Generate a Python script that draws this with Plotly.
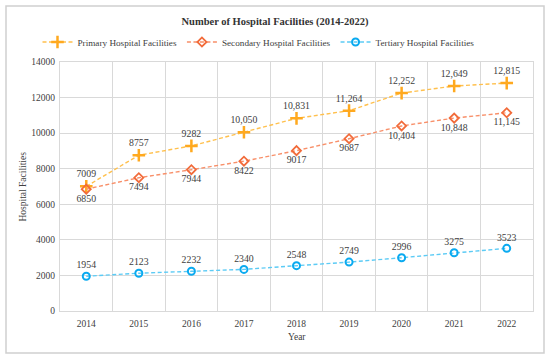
import plotly.graph_objects as go

years = [2014, 2015, 2016, 2017, 2018, 2019, 2020, 2021, 2022]
primary = [7009, 8757, 9282, 10050, 10831, 11264, 12252, 12649, 12815]
secondary = [6850, 7494, 7944, 8422, 9017, 9687, 10404, 10848, 11145]
tertiary = [1954, 2123, 2232, 2340, 2548, 2749, 2996, 3275, 3523]

def fmt(v):
    return f"{v:,}" if v >= 10000 else str(v)

FONT = "Liberation Serif"
TXT = "#404040"
GRID = "#d9d9d9"
DASH = "4px,2.5px"

fig = go.Figure()
fig.add_trace(go.Scatter(
    x=years, y=primary, name="Primary Hospital Facilities",
    mode="lines+markers+text",
    line=dict(color="#FFC04D", width=1.4, dash=DASH),
    marker=dict(symbol="cross-thin-open", size=9, color="#FFA91F",
                line=dict(color="#FFA91F", width=2.5)),
    text=[fmt(v) for v in primary], textposition="top center",
    textfont=dict(family=FONT, size=9.8, color=TXT),
))
fig.add_trace(go.Scatter(
    x=years, y=secondary, name="Secondary Hospital Facilities",
    mode="lines+markers+text",
    line=dict(color="#F8906A", width=1.4, dash=DASH),
    marker=dict(symbol="diamond-open", size=7, color="#F26B3A",
                line=dict(color="#F26B3A", width=1.8)),
    text=[fmt(v) for v in secondary], textposition="bottom center",
    textfont=dict(family=FONT, size=9.8, color=TXT),
))
fig.add_trace(go.Scatter(
    x=years, y=tertiary, name="Tertiary Hospital Facilities",
    mode="lines+markers+text",
    line=dict(color="#5CCBF5", width=1.4, dash=DASH),
    marker=dict(symbol="circle-open", size=7, color="#0AAAF0",
                line=dict(color="#0AAAF0", width=2)),
    text=[fmt(v) for v in tertiary], textposition="top center",
    textfont=dict(family=FONT, size=9.8, color=TXT),
))

bounds = [y + 0.5 for y in [2013] + years]

W, H = 550, 359
L, R, T, B = 60, 17, 62, 48
pw, ph = W - L - R, H - T - B

fig.update_layout(
    width=W, height=H,
    margin=dict(l=L, r=R, t=T, b=B, autoexpand=False),
    paper_bgcolor="white", plot_bgcolor="white",
    font=dict(family=FONT, size=9, color=TXT),
    title=dict(text="<b>Number of Hospital Facilities (2014-2022)</b>",
               x=0.5, xref="container", xanchor="center",
               y=1 - 21 / H, yref="container", yanchor="middle",
               font=dict(family=FONT, size=10.5, color="#333333")),
    legend=dict(orientation="h", x=0.47, xref="container", xanchor="center",
                y=1 - 42 / H, yref="container", yanchor="middle",
                font=dict(family=FONT, size=9.2, color=TXT),
                itemwidth=30, tracegroupgap=0, bgcolor="rgba(0,0,0,0)"),
    showlegend=True,
    xaxis=dict(range=[2013.5, 2022.5], tickvals=years, ticktext=[str(y) for y in years],
               showgrid=False, zeroline=False, ticks="", automargin=False,
               showline=True, linecolor=GRID, mirror=True,
               minor=dict(tickvals=bounds, showgrid=True, gridcolor=GRID, gridwidth=1, ticks=""),
               tickfont=dict(family=FONT, size=9.5, color=TXT), ticklabelstandoff=4),
    yaxis=dict(range=[0, 14000], dtick=2000, tickformat="d", automargin=False,
               showgrid=True, gridcolor=GRID, zeroline=False,
               showline=True, linecolor=GRID, mirror=True, ticks="",
               tickfont=dict(family=FONT, size=9.5, color=TXT), ticklabelstandoff=2),
    annotations=[
        dict(text="Year", xref="paper", yref="paper", x=0.5, y=(311 - 337) / ph,
             showarrow=False, xanchor="center", yanchor="middle",
             font=dict(family=FONT, size=9.5, color=TXT)),
        dict(text="Hospital Facilities", xref="paper", yref="paper",
             x=(22 - L) / pw, y=0.5, textangle=-90,
             showarrow=False, xanchor="center", yanchor="middle",
             font=dict(family=FONT, size=9.5, color=TXT)),
    ],
    shapes=[dict(type="rect", xref="paper", yref="paper",
                 x0=(6 - L) / pw, x1=(544 - L) / pw,
                 y0=(311 - 353) / ph, y1=(311 - 6) / ph,
                 line=dict(color="#d0d0d0", width=1.5), layer="above")],
)

fig.write_html("out.html", config={"displayModeBar": False},
               post_script="document.body.style.margin='0';")
